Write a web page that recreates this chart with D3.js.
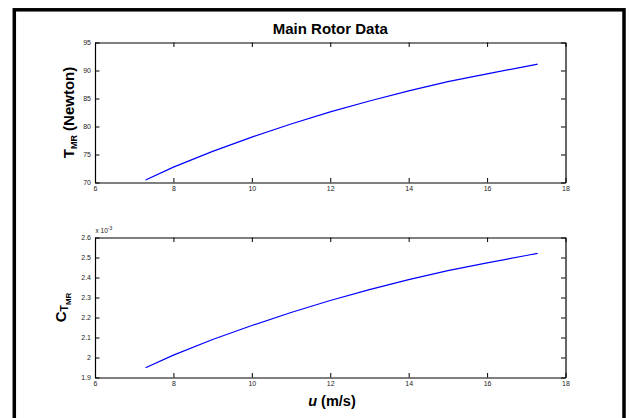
<!DOCTYPE html>
<html>
<head>
<meta charset="utf-8">
<script src="https://cdn.jsdelivr.net/npm/d3@7"></script>
<style>
  html, body { margin: 0; padding: 0; background: #fff; }
  svg { display: block; }
  text { font-family: "Liberation Sans", Arial, Helvetica, sans-serif; }
</style>
</head>
<body>
<svg id="chart" width="630" height="418"></svg>
<script>
// ---- data ----
const airspeed = [7.29, 8, 9, 10, 11, 12, 13, 14, 15, 16, 17, 17.29];                              // u (m/s)
const thrustMR = [70.45, 72.75, 75.55, 78.1, 80.45, 82.6, 84.55, 86.35, 88.0, 89.4, 90.75, 91.15];   // Newton
const ctMR     = [1.949, 2.012, 2.090, 2.160, 2.225, 2.285, 2.339, 2.389, 2.434, 2.473, 2.510, 2.521]; // x 10^-3
const xTicks   = [6, 8, 10, 12, 14, 16, 18];
const yTicksT  = [70, 75, 80, 85, 90, 95];
const yTicksC  = [1.9, 2, 2.1, 2.2, 2.3, 2.4, 2.5, 2.6];
const titleText = "Main Rotor Data";

const svg = d3.select("#chart");
const font = "'Liberation Sans', Arial, Helvetica, sans-serif";

// outer figure frame
svg.append("rect")
  .attr("x", 14.3).attr("y", 9.8).attr("width", 609.7).attr("height", 440)
  .attr("fill", "none").attr("stroke", "#000").attr("stroke-width", 3.5);

const left = 95, right = 565.5;
const x = d3.scaleLinear().domain([6, 18]).range([left, right]);

function panel(top, bottom, yDomain, yTicks, values, fmt) {
  const y = d3.scaleLinear().domain(yDomain).range([bottom, top]);
  const g = svg.append("g");
  const tick = 4.5;

  const styleAxis = sel => {
    sel.selectAll("path.domain").attr("stroke", "#000").attr("stroke-width", 1.2);
    sel.selectAll(".tick line").attr("stroke", "#000").attr("stroke-width", 1);
    sel.selectAll(".tick text").attr("font-family", font).attr("font-size", 7).attr("fill", "#222");
  };

  g.append("g").attr("transform", `translate(0,${bottom})`)
    .call(d3.axisBottom(x).tickValues(xTicks).tickSizeInner(-tick).tickSizeOuter(0).tickPadding(4).tickFormat(d3.format("d")))
    .call(styleAxis);
  g.append("g").attr("transform", `translate(0,${top})`)
    .call(d3.axisTop(x).tickValues(xTicks).tickSizeInner(-tick).tickSizeOuter(0).tickFormat(""))
    .call(styleAxis);
  g.append("g").attr("transform", `translate(${left},0)`)
    .call(d3.axisLeft(y).tickValues(yTicks).tickSizeInner(-tick).tickSizeOuter(0).tickPadding(4).tickFormat(fmt))
    .call(styleAxis);
  g.append("g").attr("transform", `translate(${right},0)`)
    .call(d3.axisRight(y).tickValues(yTicks).tickSizeInner(-tick).tickSizeOuter(0).tickFormat(""))
    .call(styleAxis);
  g.selectAll("text").attr("font-size", 7);

  const line = d3.line().x((d, i) => x(airspeed[i])).y(d => y(d));
  g.append("path").datum(values)
    .attr("d", line).attr("fill", "none")
    .attr("stroke", "#0000ff").attr("stroke-width", 1.2);
  return { g, y };
}

const fmtT = d3.format("d");
const fmtC = d => String(+d.toFixed(1));

panel(42.5, 182.5, [70, 95], yTicksT, thrustMR, fmtT);
panel(237.5, 377.5, [1.9, 2.6], yTicksC, ctMR, fmtC);

// title
svg.append("text")
  .attr("x", (left + right) / 2).attr("y", 33.5)
  .attr("text-anchor", "middle").attr("font-size", 15).attr("font-weight", "bold")
  .attr("font-family", font).text(titleText);

// y label top: T_MR (Newton)
const yl1 = svg.append("text")
  .attr("transform", `translate(74,112.5) rotate(-90)`)
  .attr("text-anchor", "middle").attr("font-weight", "bold").attr("font-size", 15)
  .attr("font-family", font);
yl1.append("tspan").text("T");
yl1.append("tspan").attr("font-size", 9).attr("dy", 3).text("MR");
yl1.append("tspan").attr("dy", -3).text(" (Newton)");

// y label bottom: C_T_MR
const yl2 = svg.append("text")
  .attr("transform", `translate(65.5,307.5) rotate(-90)`)
  .attr("text-anchor", "middle").attr("font-weight", "bold").attr("font-size", 15)
  .attr("font-family", font);
yl2.append("tspan").text("C");
yl2.append("tspan").attr("font-size", 10.5).attr("dy", 2).text("T");
yl2.append("tspan").attr("font-size", 8).attr("dy", 3.5).text("MR");

// exponent label
const ex = svg.append("text")
  .attr("x", 95.5).attr("y", 233).attr("font-size", 6.5).attr("fill", "#222")
  .attr("font-family", font);
ex.append("tspan").text("x 10");
ex.append("tspan").attr("font-size", 5).attr("dy", -3).text("-3");

// x label
const xl = svg.append("text")
  .attr("x", 332).attr("y", 406)
  .attr("text-anchor", "middle").attr("font-weight", "bold").attr("font-size", 14.5)
  .attr("font-family", font);
xl.append("tspan").attr("font-style", "italic").text("u");
xl.append("tspan").text(" (m/s)");
</script>
</body>
</html>
